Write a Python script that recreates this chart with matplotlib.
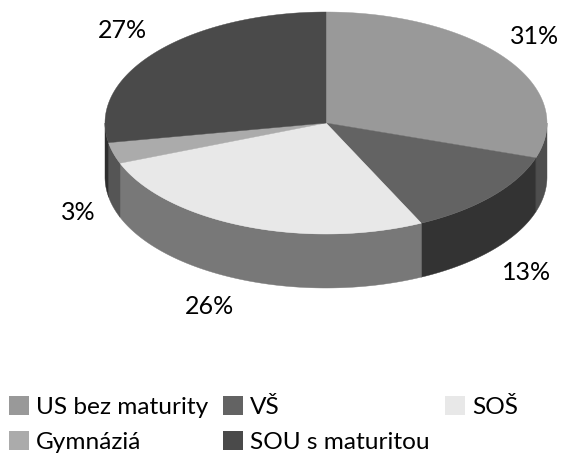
import numpy as np
import matplotlib
matplotlib.use('Agg')
import matplotlib.pyplot as plt
from matplotlib.patches import Polygon, Patch

plt.rcParams['font.family'] = ['Lato', 'DejaVu Sans']

# data
categories = ['US bez maturity', 'VŠ', 'SOŠ', 'Gymnáziá', 'SOU s maturitou']
values = [31, 13, 26, 3, 27]
top_colors = ['#999999', '#636363', '#e8e8e8', '#ababab', '#4a4a4a']
side_colors = ['#4e4e4e', '#333333', '#787878', '#555555', '#2e2e2e']
label_pos = [(535, 37), (527, 273), (210, 306), (78, 213), (122, 30)]

# pie geometry in pixels
cx, cy = 326, 123
rx, ry = 221, 111
depth = 54


def rim(t0, t1, dy=0):
    t = np.radians(np.linspace(t0, t1, 200))
    return np.column_stack([cx + rx * np.sin(t), cy + dy - ry * np.cos(t)])


fig = plt.figure(figsize=(5.62, 4.59), dpi=100)
ax = fig.add_axes([0, 0, 1, 1])
ax.set_xlim(0, 562)
ax.set_ylim(459, 0)
ax.axis('off')

edges = np.concatenate([[0], np.cumsum(values)]) / sum(values) * 360
# the tilted 3d view pulls the slice borders back a little
edges = edges - 4 * np.sin(np.radians(edges / 2))

# side walls first, only the front half is visible
for i in range(len(values)):
    t0 = max(edges[i], 90)
    t1 = min(edges[i + 1], 270)
    if t1 > t0:
        wall = np.vstack([rim(t0, t1), rim(t0, t1, depth)[::-1]])
        ax.add_patch(Polygon(wall, fc=side_colors[i], ec=side_colors[i], lw=0.3))

# top slices
for i in range(len(values)):
    top = np.vstack([[cx, cy], rim(edges[i], edges[i + 1])])
    ax.add_patch(Polygon(top, fc=top_colors[i], ec=top_colors[i], lw=0.3))

for v, (x, y) in zip(values, label_pos):
    ax.text(x, y, '%d%%' % v, ha='center', va='center', fontsize=18, color='black')

handles = [Patch(fc=c, ec='none') for c in top_colors]
# legend fills by column, so reorder to get the rows of the reference
order = [0, 3, 1, 4, 2]
ax.legend([handles[i] for i in order], [categories[i] for i in order], ncol=3,
          loc='upper left', bbox_to_anchor=(9 / 562, 1 - 396 / 459), frameon=False,
          fontsize=17.6, handlelength=0.82, handleheight=0.82, handletextpad=0.28,
          columnspacing=0.62, labelspacing=0.52, borderpad=0, borderaxespad=0)

fig.savefig('out.png', dpi=100)
